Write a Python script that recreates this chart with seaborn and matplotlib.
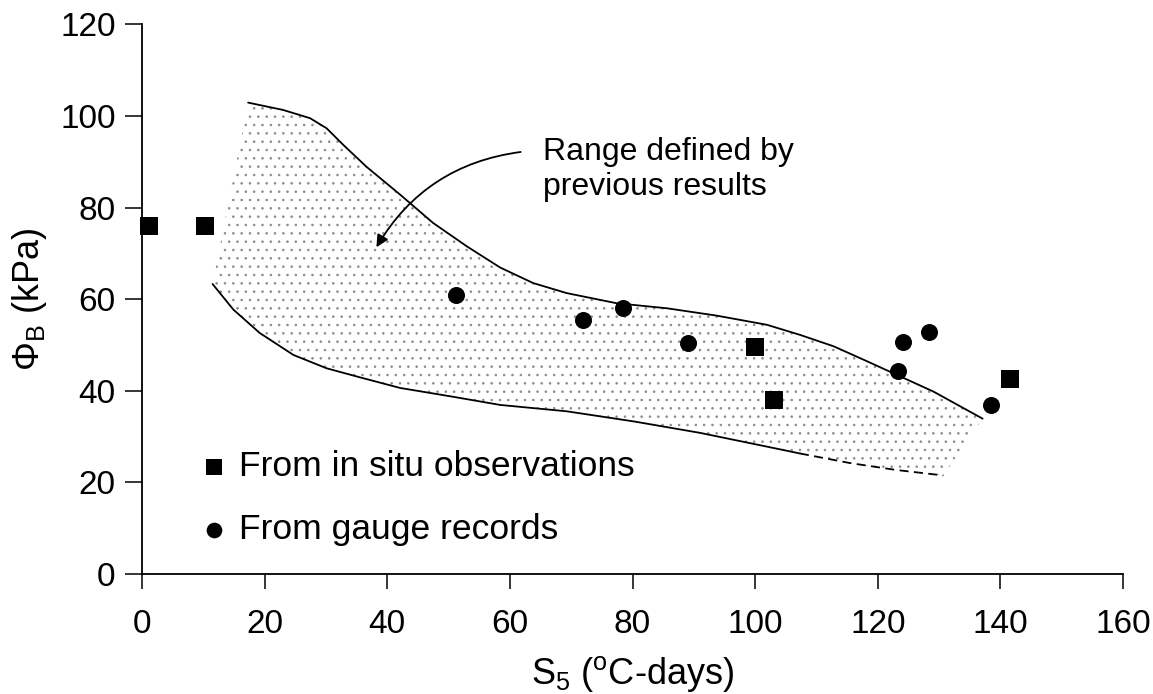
"""
Recreate: phi_B vs S5 with range band from previous results
"""

import matplotlib

matplotlib.use("Agg")
import matplotlib.pyplot as plt  # type: ignore
import pandas as pd  # type: ignore
import seaborn as sns  # type: ignore

# in situ observations (squares)
situ_x = [1.2, 10.3, 100.0, 103.0, 141.5]
situ_y = [76.0, 76.0, 49.5, 37.9, 42.6]

# gauge records (circles)
gauge_x = [51.2, 72.0, 78.5, 89.0, 123.3, 124.1, 128.4, 138.4]
gauge_y = [61.0, 55.5, 58.0, 50.5, 44.2, 50.6, 52.9, 36.9]

# upper bound of previous results
upper_x = [17.3, 23, 27.4, 30.1, 32.8, 36.6, 42.1, 47.5, 53, 58.4, 63.8,
           69.3, 77.4, 85.6, 93.7, 101.9, 107.3, 112.8, 118.3, 123.7, 129.1, 137.1]
upper_y = [102.9, 101.3, 99.5, 97.3, 93.7, 88.9, 82.8, 76.6, 71.5, 66.9, 63.5,
           61.3, 59.1, 58.0, 56.4, 54.4, 52.2, 49.7, 46.4, 43.1, 39.8, 33.9]

# lower bound, solid part then dashed extension
lower_x = [11.5, 14.9, 19.2, 24.7, 30.1, 35.6, 42.1, 50.2, 58.4, 69.3, 80.2,
           91, 101.9, 107.3]
lower_y = [63.3, 57.7, 52.6, 47.8, 44.9, 42.9, 40.6, 38.8, 36.9, 35.5, 33.3,
           30.8, 27.8, 26.3]
lower_dash_x = [107.3, 115.5, 123, 130.7]
lower_dash_y = [26.3, 24.2, 22.7, 21.5]


def main():
    sns.set_theme(style="ticks")
    plt.rcParams["font.family"] = ["Liberation Sans", "DejaVu Sans"]
    plt.rcParams["mathtext.fontset"] = "custom"
    plt.rcParams["mathtext.rm"] = "Liberation Sans"
    plt.rcParams["mathtext.it"] = "Liberation Sans"
    plt.rcParams["hatch.color"] = "#8a8a8a"
    plt.rcParams["hatch.linewidth"] = 0.6
    for key in ["text.color", "axes.labelcolor", "xtick.color", "ytick.color"]:
        plt.rcParams[key] = "black"

    fig = plt.figure(figsize=(11.53, 6.94), dpi=100)
    ax = fig.add_axes([0.1232, 0.173, 0.8508, 0.792])

    # stippled band between the bounds
    band_x = upper_x + lower_dash_x[::-1] + lower_x[::-1]
    band_y = upper_y + lower_dash_y[::-1] + lower_y[::-1]
    ax.fill(band_x, band_y, facecolor="none", edgecolor="#8a8a8a",
            hatch="..", linewidth=0, zorder=1)

    up = pd.DataFrame({"x": upper_x, "y": upper_y})
    lo = pd.DataFrame({"x": lower_x, "y": lower_y})
    lod = pd.DataFrame({"x": lower_dash_x, "y": lower_dash_y})
    sns.lineplot(data=up, x="x", y="y", sort=False, color="black", lw=1.3, ax=ax)
    sns.lineplot(data=lo, x="x", y="y", sort=False, color="black", lw=1.3, ax=ax)
    sns.lineplot(data=lod, x="x", y="y", sort=False, color="black", lw=1.3,
                 linestyle=(0, (5, 3)), ax=ax)

    sns.scatterplot(x=situ_x, y=situ_y, marker="s", s=150, color="black",
                    edgecolor="black", linewidth=0, label="From in situ observations",
                    ax=ax, zorder=3, clip_on=False)
    sns.scatterplot(x=gauge_x, y=gauge_y, marker="o", s=150, color="black",
                    edgecolor="black", linewidth=0, label="From gauge records",
                    ax=ax, zorder=3, clip_on=False)

    ax.legend(loc="lower left", bbox_to_anchor=(0.03, 0.005), frameon=False,
              fontsize=25.5, labelspacing=0.86, handletextpad=0.2,
              handlelength=1.0, borderpad=0.2, markerscale=0.92)

    ax.text(65.4, 88.3, "Range defined by\nprevious results", fontsize=23,
            ha="left", va="center", linespacing=1.25)
    ax.annotate("", xy=(38, 70.8), xytext=(62.2, 92.2),
                arrowprops=dict(arrowstyle="-|>", connectionstyle="arc3,rad=0.25",
                                color="black", lw=1.3, mutation_scale=18))

    ax.set_xlim(0, 160)
    ax.set_ylim(0, 120)
    ax.set_xticks(range(0, 161, 20))
    ax.set_yticks(range(0, 121, 20))
    ax.tick_params(axis="both", labelsize=24, width=1.1, color="black")
    ax.tick_params(axis="x", length=11, pad=14)
    ax.tick_params(axis="y", length=12, pad=7)
    for side in ["left", "bottom"]:
        ax.spines[side].set_linewidth(1.3)
        ax.spines[side].set_color("black")
    sns.despine(ax=ax)

    ax.set_xlabel(r"S$_5$ ($^{\mathrm{o}}$C-days)", fontsize=26, labelpad=10)
    ax.set_ylabel(r"$\Phi_\mathrm{B}$ (kPa)", fontsize=26, labelpad=8)

    fig.savefig("out.png", dpi=100)


if __name__ == "__main__":
    main()
